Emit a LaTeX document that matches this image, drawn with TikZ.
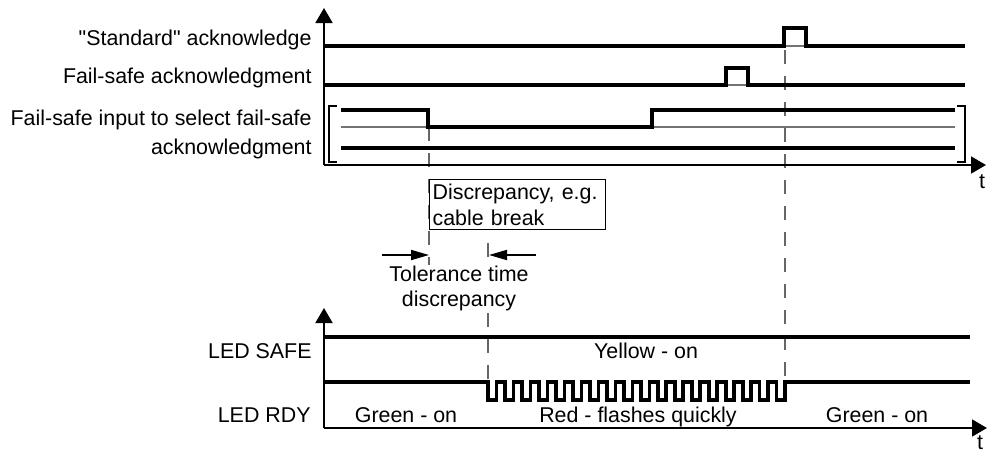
\documentclass[tikz,border=0pt]{standalone}
\usepackage{fontspec}
\setmainfont{Liberation Sans}[Ligatures=TeXOff]
\usetikzlibrary{arrows.meta}

\begin{document}
\begin{tikzpicture}[
  x=0.5pt, y=-0.5pt, >={Triangle[length=7.5pt, width=8.5pt]},
  axis/.style={line width=0.9pt},
  sig/.style={line width=1.8pt},
  rail/.style={line width=0.6pt, black!55},
  guide/.style={line width=0.7pt, black!60, dash pattern=on 7pt off 6pt},
  brk/.style={line width=0.8pt},
  tol/.style={line width=0.9pt, >={Triangle[length=9pt, width=5pt]}},
  lab/.style={font=\fontsize{10.7}{13}\selectfont, inner sep=0pt}
]
\useasboundingbox (0,0) rectangle (987,451);

\coordinate (O1) at (324,165);
\coordinate (Y1) at (324,8);
\coordinate (X1) at (986,165);
\coordinate (O2) at (324,428);
\coordinate (Y2) at (324,308);
\coordinate (X2) at (987,428);

% guide lines
\draw[guide] (429,127) -- (429,265);
\draw[guide] (488,243) -- (488,262);
\draw[guide] (488,313) -- (488,382);
\draw[guide] (785,50) -- (785,382);

% upper diagram
\draw[axis,->] (O1) -- (Y1);
\draw[axis,->] (O1) -- (X1);
\node[lab, anchor=base east] (stdack) at (312,45) {"Standard" acknowledge};
\node[lab, anchor=base east] (fsack) at (312,83) {Fail-safe acknowledgment};
\node[lab, anchor=base east] (fsin) at (312,125) {Fail-safe input to select fail-safe};
\node[lab, anchor=base east] (fsinb) at (312,154) {acknowledgment};
\node[lab, anchor=base] (t1) at (982,188) {t};

\draw[rail] (784,46) -- (806,46);
\draw[sig] (324,46) -- (784,46) -- (784,28) -- (806,28) -- (806,46) -- (965,46);
\draw[rail] (726,85) -- (748,85);
\draw[sig] (324,85) -- (726,85) -- (726,68) -- (748,68) -- (748,85) -- (965,85);
\draw[rail] (341,127) -- (955,127);
\draw[sig] (341,110) -- (428,110) -- (428,127) -- (652,127) -- (652,110) -- (955,110);
\draw[sig] (341,148) -- (955,148);
\draw[brk] (337,106) -- (329,106) -- (329,162) -- (337,162);
\draw[brk] (957,106) -- (965,106) -- (965,162) -- (957,162);

\node[lab, draw, line width=0.6pt, anchor=north west, minimum width=88pt, minimum height=25pt,
  text width=85pt, align=left, inner xsep=1.5pt] (disc) at (429,179) {Discrepancy, e.g.\\cable break};

\coordinate (tolA) at (382,255);
\coordinate (tolB) at (429,255);
\coordinate (tolC) at (536,255);
\coordinate (tolD) at (489,255);
\draw[tol,->] (tolA) -- (tolB);
\draw[tol,->] (tolC) -- (tolD);
\node[lab, anchor=base] (tolt) at (459,281) {Tolerance time};
\node[lab, anchor=base] (told) at (459,306) {discrepancy};

% lower diagram
\draw[axis,->] (O2) -- (Y2);
\draw[axis,->] (O2) -- (X2);
\node[lab, anchor=base east] (safe) at (312,358) {LED SAFE};
\node[lab, anchor=base east] (rdy) at (311,422) {LED RDY};
\node[lab, anchor=base] (t2) at (980,449) {t};

\draw[sig] (324,337) -- (970,337);
\draw[sig] (324,382) -- (488,382)
  \foreach \i in {1,...,17} {-- ++(0,18) -- ++(8.49,0) -- ++(0,-18) -- ++(8.49,0)}
  -- ++(0,18) -- ++(8.49,0) -- ++(0,-18) -- (970,382);

\node[lab, anchor=base] (yel) at (646,358) {Yellow - on};
\node[lab, anchor=base] (grn1) at (406,422) {Green - on};
\node[lab, anchor=base] (red) at (638,422) {Red - flashes quickly};
\node[lab, anchor=base] (grn2) at (877,422) {Green - on};
\end{tikzpicture}
\end{document}
